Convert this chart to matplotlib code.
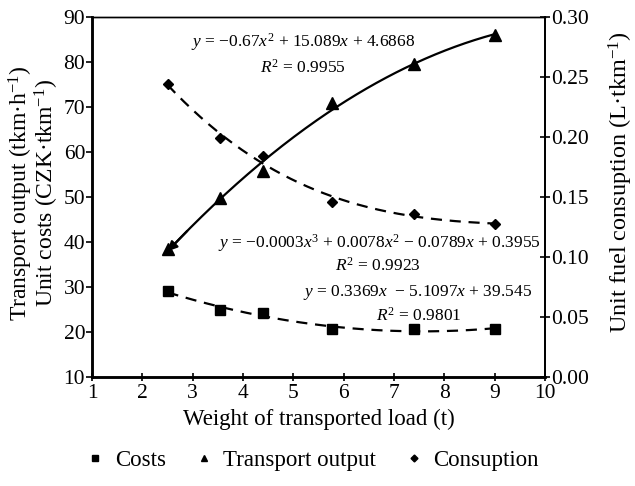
import numpy as np
import matplotlib
matplotlib.use("Agg")
import matplotlib.pyplot as plt
from matplotlib.lines import Line2D

plt.rcParams["font.family"] = ["Liberation Serif", "DejaVu Serif"]
plt.rcParams["mathtext.fontset"] = "custom"
plt.rcParams["mathtext.rm"] = "Liberation Serif"
plt.rcParams["mathtext.it"] = "Liberation Serif:italic"

# data
load_t = [2.5, 3.55, 4.4, 5.77, 7.4, 9.0]
costs = [29.1, 24.9, 24.2, 20.8, 20.6, 20.7]
transport = [38.4, 49.9, 55.9, 71.0, 79.5, 86.0]
consumption = [0.244, 0.199, 0.184, 0.146, 0.136, 0.1275]

eq_transport = "$y$ = \u22120.67$x^2$ + 15.089$x$ + 4.6868"
r2_transport = "$R^2$ = 0.9955"
eq_consumption = "$y$ = \u22120.0003$x^3$ + 0.0078$x^2$ \u2212 0.0789$x$ + 0.3955"
r2_consumption = "$R^2$ = 0.9923"
eq_costs = "$y$ = 0.3369$x$  \u2212 5.1097$x$ + 39.545"
r2_costs = "$R^2$ = 0.9801"

FS = 15.5     # tick labels
FS_LAB = 16.5 # x label, legend
FS_Y = 17     # y labels
FS_EQ = 12.5  # fit equations

fig = plt.figure(figsize=(6.35, 4.86), dpi=100)
ax = fig.add_axes([0.145, 0.224, 0.713, 0.741])
ax2 = ax.twinx()

xs = np.linspace(min(load_t), max(load_t), 200)
dash = (0, (5, 3.5))

# trendlines (least squares, like the spreadsheet did)
fit_c = np.polyval(np.polyfit(load_t, costs, 2), xs)
fit_t = np.polyval(np.polyfit(load_t, transport, 2), xs)
fit_f = np.polyval(np.polyfit(load_t, consumption, 3), xs)

ax.plot(xs, fit_c, color="black", lw=1.6, ls=dash, zorder=2)
ax.plot(xs, fit_t, color="black", lw=1.6, zorder=2)
ax.annotate("", xy=(xs[0], fit_t[0]), xytext=(xs[12], fit_t[12]),
            arrowprops=dict(arrowstyle="-|>", color="black", lw=1.6,
                            mutation_scale=14, shrinkA=0, shrinkB=0))
ax2.plot(xs, fit_f, color="black", lw=1.6, ls=dash, zorder=2)

ax.plot(load_t, costs, ls="none", marker="s", ms=7, color="black", zorder=3)
ax.plot(load_t, transport, ls="none", marker="^", ms=8, color="black", zorder=3)
ax2.plot(load_t, consumption, ls="none", marker="D", ms=5.5, color="black", zorder=3)

ax.set_xlim(1, 10)
ax.set_ylim(10, 90)
ax2.set_ylim(0, 0.30)
ax.set_xticks(range(1, 11))
ax.set_yticks(range(10, 91, 10))
ax2.set_yticks(np.arange(0, 0.301, 0.05))
ax2.set_yticklabels([f"{v:.2f}" for v in np.arange(0, 0.301, 0.05)])

ax.tick_params(axis="x", direction="inout", length=6, width=1.2, labelsize=FS, pad=2)
ax.tick_params(axis="y", direction="out", length=4, width=1.2, labelsize=FS, pad=1)
ax2.tick_params(axis="y", direction="inout", length=7, width=1.2, labelsize=FS, pad=1)

for a in (ax, ax2):
    a.spines["left"].set_linewidth(1.8)
    a.spines["bottom"].set_linewidth(1.8)
    a.spines["top"].set_linewidth(1.0)
    a.spines["right"].set_linewidth(1.3)

ax.set_xlabel("Weight of transported load (t)", fontsize=FS_LAB, labelpad=4)
ax.set_ylabel("Transport output (tkm\u00b7h$^{-1}$)\nUnit costs (CZK\u00b7tkm$^{-1}$)",
              fontsize=FS_Y, linespacing=0.9)
ax.yaxis.set_label_coords(-0.069, 0.51)
ax2.set_ylabel("Unit fuel consuption (L\u00b7tkm$^{-1}$)", fontsize=FS_Y + 0.5)
ax2.yaxis.set_label_coords(1.136, 0.542)

# fit equations
ax.text(5.2, 84.4, eq_transport, fontsize=FS_EQ, ha="center", va="center")
ax.text(5.2, 78.7, r2_transport, fontsize=FS_EQ, ha="center", va="center")
ax.text(6.71, 39.7, eq_consumption, fontsize=FS_EQ, ha="center", va="center")
ax.text(6.68, 34.8, r2_consumption, fontsize=FS_EQ, ha="center", va="center")
ax.text(7.47, 28.8, eq_costs, fontsize=FS_EQ, ha="center", va="center")
ax.text(7.49, 23.7, r2_costs, fontsize=FS_EQ, ha="center", va="center")

handles = [
    Line2D([0], [0], ls="none", marker="s", ms=5, color="black", label="Costs"),
    Line2D([0], [0], ls="none", marker="^", ms=5, color="black", label="Transport output"),
    Line2D([0], [0], ls="none", marker="D", ms=3.5, color="black", label="Consuption"),
]
fig.legend(handles=handles, loc="center", bbox_to_anchor=(0.493, 0.052), ncol=3,
           frameon=False, fontsize=FS_LAB, handlelength=0.7, handletextpad=0.5,
           columnspacing=1.3)

fig.savefig("out.png", dpi=100)
